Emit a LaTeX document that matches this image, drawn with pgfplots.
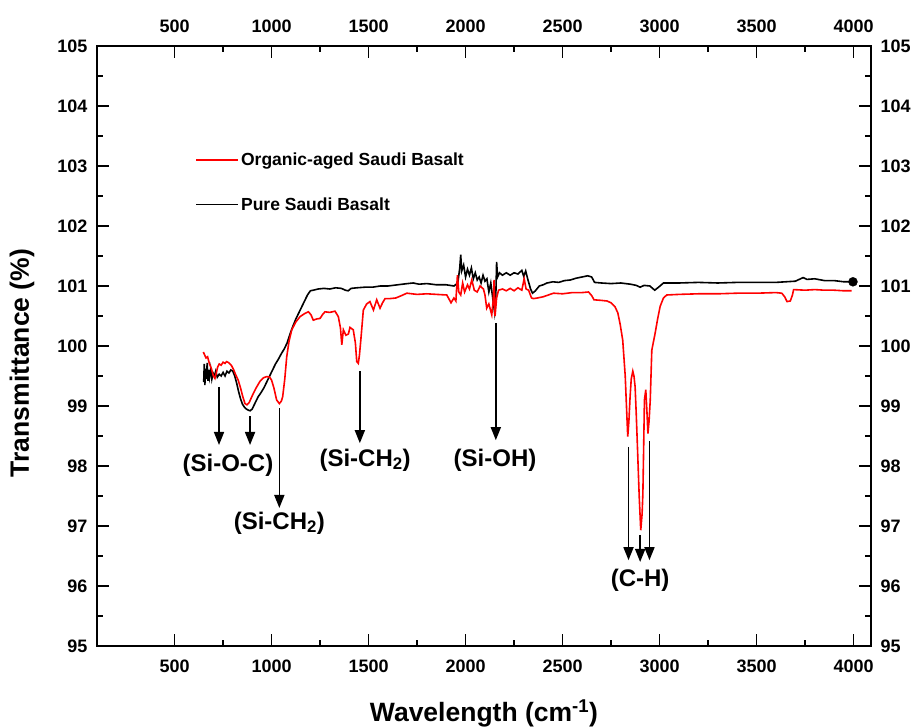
\documentclass[border=0pt]{standalone}
\usepackage{fontspec}
\setmainfont{Liberation Sans}
\usepackage{pgfplots}
\pgfplotsset{compat=1.18}
\usetikzlibrary{arrows.meta}

\pgfplotsset{
  spectrumframe/.style={
    scale only axis, width=774pt, height=600pt,
    at={(0,0)}, anchor=south west,
    xmin=100, xmax=4090, ymin=95, ymax=105,
    xtick={500,1000,...,4000}, ytick={95,96,...,105},
    minor x tick num=1, minor y tick num=1,
    tick align=inside, major tick length=12pt, minor tick length=6pt,
    axis line style={line width=2pt},
    every tick/.style={black, line width=1.6pt},
    ticklabel style={font=\bfseries\fontsize{18}{18}\selectfont},
    /pgf/number format/assume math mode=true,
    /pgf/number format/1000 sep={},
  },
}
\tikzset{
  annarrow/.style={-{Triangle[length=13pt,width=10pt]}, line width=1.6pt, black},
  annlabel/.style={font=\bfseries\fontsize{24}{24}\selectfont, inner sep=0pt},
}

\begin{document}
\begin{tikzpicture}
\useasboundingbox (-97pt,-81pt) rectangle (824pt,646pt);

% mirrored labels on the top and right edges
\begin{axis}[spectrumframe,
  xticklabel pos=upper, yticklabel pos=right,
  xticklabel style={yshift=10pt}, yticklabel style={xshift=6pt}]
\end{axis}

\begin{axis}[spectrumframe,
  xticklabel style={yshift=-10pt}, yticklabel style={xshift=-6pt},
  xlabel={Wavelength (cm\textsuperscript{-1})},
  ylabel={Transmittance (\%)},
  xlabel style={font=\bfseries\fontsize{26.5}{26.5}\selectfont, at={(axis description cs:0.5,-0.1117)}, anchor=center},
  ylabel style={font=\bfseries\fontsize{26.5}{26.5}\selectfont, at={(axis description cs:-0.0969,0.4717)}, anchor=center},
  legend style={at={(rel axis cs:0.1266,0.8250)}, anchor=north west, draw=none, fill=none,
    inner sep=0pt, row sep=26pt, font=\bfseries\fontsize{17.5}{17.5}\selectfont},
  legend cell align=left,
  legend image code/.code={\draw[#1, line width=1.9pt] (0pt,0pt) -- (42pt,0pt);},
]

% Pure Saudi Basalt
\addplot[black, line width=1.6pt, forget plot] coordinates {
(650,99.40) (653,99.70) (656,99.35) (660,99.62) (664,99.45) (668,99.72) (672,99.42)
(676,99.60) (680,99.48) (686,99.62) (692,99.45) (698,99.55) (705,99.50) (712,99.58)
(720,99.48) (730,99.53) (740,99.50) (750,99.56) (760,99.50) (770,99.58) (780,99.55)
(790,99.60) (800,99.58) (810,99.50) (820,99.38) (830,99.24) (840,99.12) (850,99.03)
(860,98.98) (870,98.95) (880,98.93) (890,98.92) (900,98.95) (915,99.05) (930,99.15)
(945,99.22) (960,99.30) (975,99.40) (990,99.50) (1005,99.60) (1020,99.70) (1035,99.78)
(1050,99.87) (1065,99.95) (1080,100.05) (1095,100.20) (1110,100.33) (1125,100.45)
(1140,100.55) (1155,100.65) (1170,100.75) (1185,100.85) (1200,100.92) (1215,100.93)
(1240,100.95) (1270,100.96) (1300,100.95) (1330,100.97) (1360,100.96) (1380,100.93)
(1395,100.92) (1410,100.96) (1440,100.97) (1480,100.98) (1520,100.98) (1560,101.00)
(1600,101.00) (1650,101.02) (1700,101.04) (1730,101.05) (1760,101.03) (1800,101.04)
(1850,101.02) (1900,101.02) (1940,101.00) (1960,101.05) (1970,101.30) (1975,101.52)
(1980,101.25) (1990,101.35) (2000,101.15) (2010,101.28) (2020,101.18) (2030,101.30)
(2040,101.12) (2050,101.22) (2060,101.10) (2070,101.15) (2080,101.05) (2090,101.18)
(2100,101.08) (2110,101.12) (2120,100.90) (2130,101.05) (2140,100.80) (2150,100.55)
(2155,100.70) (2160,101.40) (2165,101.15) (2175,101.22) (2190,101.18) (2210,101.22)
(2230,101.18) (2250,101.22) (2270,101.20) (2290,101.26) (2300,101.16) (2310,101.25)
(2320,101.12) (2335,100.95) (2345,100.88) (2360,100.92) (2380,101.00) (2400,101.02)
(2420,101.05) (2450,101.07) (2480,101.06) (2510,101.09) (2540,101.10) (2570,101.13)
(2600,101.15) (2630,101.17) (2650,101.15) (2665,101.06) (2700,101.05) (2750,101.04)
(2800,101.05) (2850,101.03) (2880,101.01) (2900,100.98) (2920,101.01) (2950,101.00)
(2975,100.93) (2995,100.98) (3020,101.05) (3100,101.05) (3200,101.06) (3300,101.05)
(3400,101.06) (3500,101.06) (3600,101.06) (3700,101.08) (3740,101.14) (3760,101.11)
(3800,101.12) (3850,101.09) (3900,101.09) (3950,101.07) (3997,101.07)
};
\addplot[only marks, mark=*, mark size=4.5pt, black, forget plot] coordinates {(3997,101.07)};

% Organic-aged Saudi Basalt
\addplot[red, line width=1.6pt, forget plot] coordinates {
(648,99.90) (655,99.85) (662,99.80) (670,99.82) (680,99.70) (690,99.62) (700,99.50)
(708,99.46) (715,99.55) (722,99.65) (730,99.70) (740,99.68) (750,99.73) (760,99.71)
(768,99.74) (780,99.72) (794,99.67) (805,99.60) (815,99.52) (828,99.43) (840,99.30)
(852,99.15) (863,99.04) (873,99.02) (885,99.06) (896,99.14) (906,99.21) (920,99.30)
(940,99.41) (958,99.47) (975,99.49) (990,99.48) (1000,99.43) (1012,99.30) (1026,99.10)
(1040,99.04) (1050,99.08) (1057,99.15) (1068,99.45) (1078,99.82) (1090,100.08)
(1104,100.27) (1125,100.40) (1147,100.49) (1170,100.54) (1190,100.57) (1203,100.52)
(1215,100.43) (1232,100.45) (1250,100.46) (1262,100.52) (1275,100.57) (1300,100.56)
(1327,100.58) (1344,100.49) (1355,100.30) (1362,100.02) (1370,100.27) (1383,100.18)
(1396,100.20) (1404,100.31) (1421,100.27) (1432,100.05) (1439,99.74) (1447,99.71)
(1453,99.85) (1460,100.10) (1473,100.60) (1490,100.70) (1507,100.74) (1525,100.60)
(1542,100.77) (1559,100.63) (1572,100.72) (1585,100.79) (1611,100.79) (1640,100.80)
(1670,100.84) (1697,100.88) (1750,100.86) (1800,100.87) (1850,100.86) (1903,100.85)
(1915,100.78) (1925,100.72) (1940,100.80) (1950,100.75) (1958,101.18) (1965,100.90)
(1975,100.85) (1985,101.05) (1995,100.90) (2010,101.02) (2020,100.95) (2032,101.10)
(2045,100.93) (2060,100.90) (2075,101.00) (2092,100.95) (2100,100.85) (2109,100.63)
(2120,100.70) (2135,100.52) (2142,100.75) (2147,101.10) (2152,100.50) (2160,100.80)
(2170,100.93) (2190,100.95) (2210,100.92) (2230,100.96) (2250,100.92) (2270,100.97)
(2290,100.93) (2302,101.12) (2312,100.95) (2325,100.93) (2340,100.80) (2350,100.79)
(2370,100.80) (2400,100.82) (2453,100.88) (2500,100.87) (2550,100.89) (2600,100.89)
(2634,100.90) (2650,100.84) (2662,100.77) (2700,100.76) (2729,100.75) (2750,100.72)
(2771,100.65) (2785,100.55) (2797,100.36) (2810,100.10) (2823,99.50) (2830,98.95)
(2836,98.49) (2842,98.75) (2848,99.15) (2854,99.45) (2862,99.58) (2868,99.50)
(2874,99.32) (2880,98.85) (2886,98.32) (2895,97.50) (2903,96.93) (2910,97.20)
(2914,97.54) (2918,98.30) (2922,99.10) (2929,99.27) (2935,98.90) (2940,98.54)
(2946,98.75) (2952,99.10) (2960,99.93) (2977,100.21) (2990,100.45) (3003,100.66)
(3020,100.80) (3037,100.85) (3100,100.86) (3200,100.87) (3300,100.87) (3400,100.88)
(3500,100.88) (3600,100.89) (3630,100.88) (3645,100.82) (3657,100.74) (3674,100.75)
(3685,100.85) (3691,100.94) (3750,100.93) (3800,100.94) (3850,100.93) (3900,100.93)
(3950,100.92) (3990,100.92)
};

\addlegendimage{red}
\addlegendentry{Organic-aged Saudi Basalt}
\addlegendimage{black}
\addlegendentry{Pure Saudi Basalt}

% band assignments
\draw[annarrow] (axis cs:729,99.32) -- (axis cs:729,98.35);
\draw[annarrow] (axis cs:889,98.83) -- (axis cs:889,98.35);
\draw[annarrow] (axis cs:1040,98.96) -- (axis cs:1040,97.30);
\draw[annarrow] (axis cs:1455,99.58) -- (axis cs:1455,98.38);
\draw[annarrow] (axis cs:2156,100.38) -- (axis cs:2156,98.43);
\draw[annarrow] (axis cs:2840,98.32) -- (axis cs:2840,96.43);
\draw[annarrow] (axis cs:2900,96.85) -- (axis cs:2900,96.40);
\draw[annarrow] (axis cs:2948,98.41) -- (axis cs:2948,96.43);

\node[annlabel] at (axis cs:775,98.02) {(Si-O-C)};
\node[annlabel] at (axis cs:1040,97.05) {(Si-CH\textsubscript{2})};
\node[annlabel] at (axis cs:1482,98.10) {(Si-CH\textsubscript{2})};
\node[annlabel] at (axis cs:2152,98.10) {(Si-OH)};
\node[annlabel] at (axis cs:2900,96.10) {(C-H)};
\end{axis}
\end{tikzpicture}
\end{document}
